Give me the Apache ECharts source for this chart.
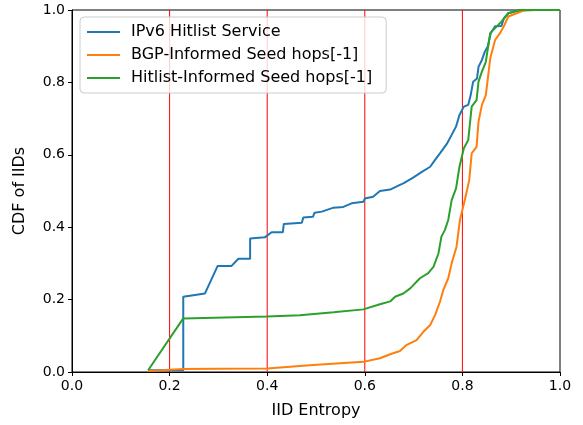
<!DOCTYPE html>
<html>
<head>
<meta charset="utf-8">
<script src="https://cdn.jsdelivr.net/npm/echarts@6/dist/echarts.min.js"></script>
<style>
  html, body { margin: 0; padding: 0; background: #fff; }
  #chart { width: 583px; height: 425px; }
</style>
</head>
<body>
<div id="chart"></div>
<script>
// 数据
var seriesNames = ['IPv6 Hitlist Service', 'BGP-Informed Seed hops[-1]', 'Hitlist-Informed Seed hops[-1]'];
var xTicks = [0, 0.2, 0.4, 0.6, 0.8, 1.0];
var refLines = [0.2, 0.4, 0.6, 0.8];

var hitlistX = [0.156, 0.228, 0.228, 0.2725, 0.2985, 0.327, 0.341, 0.365, 0.365, 0.395, 0.409, 0.432, 0.434, 0.471, 0.474, 0.494, 0.497, 0.512, 0.536, 0.556, 0.573, 0.597, 0.600, 0.617, 0.631, 0.652, 0.672, 0.679, 0.699, 0.717, 0.734, 0.744, 0.754, 0.768, 0.778, 0.787, 0.794, 0.803, 0.812, 0.817, 0.822, 0.830, 0.833, 0.840, 0.846, 0.852, 0.858, 0.867, 0.880, 0.885, 0.894, 0.918, 1.0];
var hitlistY = [0.005, 0.005, 0.208, 0.217, 0.293, 0.293, 0.313, 0.313, 0.369, 0.372, 0.386, 0.386, 0.409, 0.412, 0.427, 0.429, 0.440, 0.443, 0.454, 0.456, 0.466, 0.470, 0.479, 0.484, 0.500, 0.504, 0.517, 0.521, 0.537, 0.553, 0.567, 0.586, 0.604, 0.630, 0.655, 0.678, 0.710, 0.733, 0.738, 0.765, 0.802, 0.811, 0.843, 0.862, 0.885, 0.899, 0.936, 0.955, 0.956, 0.977, 0.991, 1.0, 1.0];

var bgpX = [0.156, 0.228, 0.300, 0.400, 0.494, 0.597, 0.631, 0.652, 0.672, 0.686, 0.706, 0.720, 0.734, 0.744, 0.754, 0.761, 0.771, 0.778, 0.788, 0.795, 0.805, 0.814, 0.819, 0.829, 0.833, 0.840, 0.848, 0.857, 0.867, 0.877, 0.885, 0.894, 0.911, 0.924, 0.950, 1.0];
var bgpY = [0.003, 0.008, 0.009, 0.010, 0.019, 0.028, 0.038, 0.049, 0.058, 0.075, 0.088, 0.111, 0.130, 0.157, 0.194, 0.227, 0.259, 0.300, 0.346, 0.420, 0.475, 0.530, 0.604, 0.622, 0.691, 0.738, 0.765, 0.866, 0.917, 0.936, 0.955, 0.982, 0.991, 0.998, 1.0, 1.0];

var seedX = [0.156, 0.228, 0.399, 0.467, 0.536, 0.597, 0.631, 0.652, 0.662, 0.679, 0.693, 0.713, 0.730, 0.741, 0.751, 0.757, 0.764, 0.771, 0.778, 0.787, 0.794, 0.803, 0.812, 0.819, 0.829, 0.833, 0.840, 0.848, 0.857, 0.867, 0.880, 0.894, 0.918, 1.0];
var seedY = [0.005, 0.148, 0.153, 0.157, 0.165, 0.173, 0.187, 0.195, 0.208, 0.217, 0.231, 0.259, 0.273, 0.291, 0.328, 0.374, 0.392, 0.420, 0.475, 0.507, 0.567, 0.618, 0.641, 0.733, 0.751, 0.802, 0.830, 0.857, 0.936, 0.950, 0.968, 0.991, 1.0, 1.0];

function pairs(xs, ys) {
  var out = [];
  for (var i = 0; i < xs.length; i++) out.push([xs[i], ys[i]]);
  return out;
}

var font = 'DejaVu Sans';
var myChart = echarts.init(document.getElementById('chart'));

function lineSeries(name, color, data, width, z) {
  return {
    name: name,
    type: 'line',
    data: data,
    showSymbol: false,
    symbol: 'none',
    lineStyle: { color: color, width: width },
    itemStyle: { color: color },
    emphasis: { disabled: true },
    animation: false,
    z: z
  };
}

var series = [
  lineSeries(seriesNames[0], '#1f77b4', pairs(hitlistX, hitlistY), 2, 3),
  lineSeries(seriesNames[1], '#ff7f0e', pairs(bgpX, bgpY), 2, 3),
  lineSeries(seriesNames[2], '#2ca02c', pairs(seedX, seedY), 2, 3)
];
// 红色竖线
refLines.forEach(function (v) {
  series.push(lineSeries('ref' + v, '#ff0000', [[v, 0], [v, 1]], 1, 2));
});

var option = {
  backgroundColor: '#fff',
  animation: false,
  grid: {
    left: 72, right: 23, top: 10, bottom: 53,
    show: true, borderColor: '#000', borderWidth: 1
  },
  legend: {
    orient: 'vertical',
    left: 80, top: 17,
    data: seriesNames,
    icon: 'rect',
    itemWidth: 33, itemHeight: 2,
    itemGap: 7,
    padding: [7, 14, 7, 7],
    backgroundColor: 'rgba(255,255,255,0.8)',
    borderColor: '#ccc', borderWidth: 1, borderRadius: 4,
    textStyle: { fontFamily: font, fontSize: 16, color: '#000', padding: [0, 0, 0, 6] }
  },
  xAxis: {
    type: 'value',
    min: 0, max: 1, interval: 0.2,
    name: 'IID Entropy',
    nameLocation: 'middle',
    nameGap: 31,
    nameTextStyle: { fontFamily: font, fontSize: 16, color: '#000' },
    axisLine: { show: true, lineStyle: { color: '#000' } },
    axisTick: { show: true, inside: false, length: 4, lineStyle: { color: '#000' } },
    axisLabel: { fontFamily: font, fontSize: 14, color: '#000', margin: 7,
      formatter: function (v) { return v.toFixed(1); } },
    splitLine: { show: false }
  },
  yAxis: {
    type: 'value',
    min: 0, max: 1, interval: 0.2,
    name: 'CDF of IIDs',
    nameLocation: 'middle',
    nameGap: 44,
    nameTextStyle: { fontFamily: font, fontSize: 16, color: '#000' },
    axisLine: { show: true, lineStyle: { color: '#000' } },
    axisTick: { show: true, inside: false, length: 4, lineStyle: { color: '#000' } },
    axisLabel: { fontFamily: font, fontSize: 14, color: '#000', margin: 7,
      formatter: function (v) { return v.toFixed(1); } },
    splitLine: { show: false }
  },
  series: series
};
myChart.setOption(option, true);
</script>
</body>
</html>
